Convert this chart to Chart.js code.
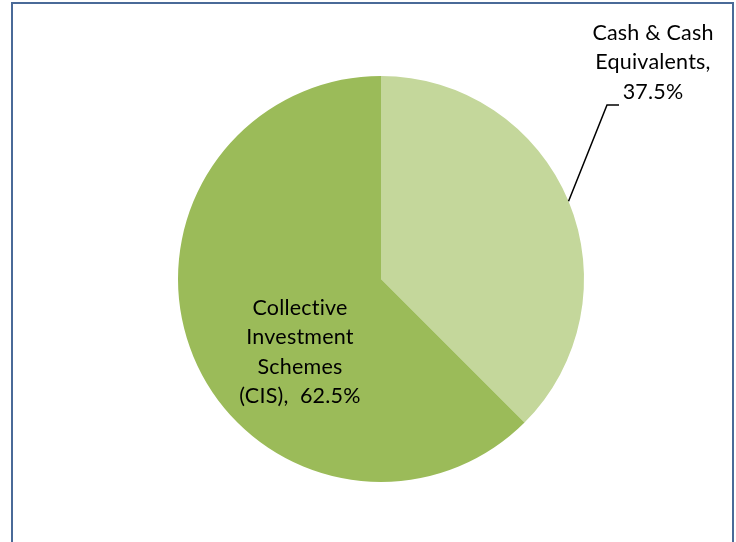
<!DOCTYPE html>
<html>
<head>
<meta charset="utf-8">
<script src="https://cdn.jsdelivr.net/npm/chart.js@4"></script>
<style>
  html, body { margin: 0; padding: 0; background: #fff; }
  #wrap { width: 736px; height: 542px; position: relative; }
</style>
</head>
<body>
<div id="wrap"><canvas id="myChart"></canvas></div>
<script>
const categories = ['Cash & Cash Equivalents', 'Collective Investment Schemes (CIS)']
const shares = [37.5, 62.5]
const labelLines = [
    ['Cash & Cash', 'Equivalents,', '37.5%'],
    ['Collective', 'Investment', 'Schemes', '(CIS),  62.5%']
]
const sliceColors = ['#C4D79B', '#9BBB59']

const ctx = document.getElementById('myChart');

// frame round the chart (Excel style, open at the bottom)
const framePlugin = {
    id: 'frame',
    beforeDraw(chart) {
        const c = chart.ctx
        c.save()
        c.strokeStyle = '#4A6A98'
        c.lineWidth = 2
        c.beginPath()
        c.moveTo(12, chart.height)
        c.lineTo(12, 3)
        c.lineTo(733, 3)
        c.lineTo(733, chart.height)
        c.stroke()
        c.restore()
    }
}

// data labels: the small slice gets an outside label with a leader line
const labelPlugin = {
    id: 'sliceLabels',
    afterDatasetsDraw(chart) {
        const c = chart.ctx
        const arcs = chart.getDatasetMeta(0).data
        c.save()
        c.font = '21.5px Lato, "Open Sans", sans-serif'
        c.letterSpacing = '0.2px'  // also keeps Lato from joining "ti"
        c.fillStyle = '#000'
        c.textAlign = 'center'
        c.textBaseline = 'middle'
        const lh = 29.5

        // Cash slice: outside, upper right
        const a0 = arcs[0]
        const mid0 = (a0.startAngle + a0.endAngle) / 2
        const sx = a0.x + Math.cos(mid0) * a0.outerRadius
        const sy = a0.y + Math.sin(mid0) * a0.outerRadius
        const kx = a0.x + 226, ky = a0.y - 174
        c.strokeStyle = '#000'
        c.lineWidth = 1.5
        c.beginPath()
        c.moveTo(sx, sy)
        c.lineTo(kx, ky)
        c.lineTo(kx + 12, ky)
        c.stroke()
        const cx0 = a0.x + 272, cy0 = a0.y - 246
        labelLines[0].forEach((t, i) => c.fillText(t, cx0, cy0 + i * lh))

        // CIS slice: inside
        const a1 = arcs[1]
        const cx1 = a1.x - 81, cy1 = a1.y + 29
        labelLines[1].forEach((t, i) => c.fillText(t, cx1, cy1 + i * lh))
        c.restore()
    }
}

new Chart(ctx, {
    type: 'pie',
    data: {
        labels: categories,
        datasets: [{
            data: shares,
            backgroundColor: sliceColors,
            borderWidth: 0
        }]
    },
    options: {
        responsive: true,
        maintainAspectRatio: false,
        animation: false,
        layout: {padding: {top: 76, bottom: 60, left: 178, right: 152}},
        plugins: {
            legend: {display: false},
            tooltip: {enabled: false}
        }
    },
    plugins: [framePlugin, labelPlugin]
})
</script>
</body>
</html>
